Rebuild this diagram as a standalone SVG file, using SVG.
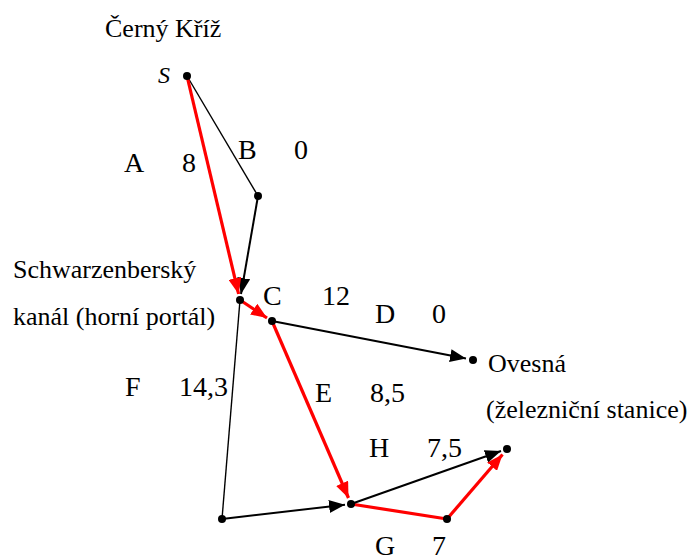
<svg xmlns="http://www.w3.org/2000/svg" width="696" height="558" viewBox="0 0 696 558">
<style>
.thin{stroke:#000;stroke-width:1.4;fill:none}
.blk{stroke:#000;stroke-width:2;fill:none}
.red{stroke:#f00;stroke-width:3.2;fill:none}
circle{fill:#000}
</style>
<defs>
<marker id="ab" markerUnits="userSpaceOnUse" markerWidth="17" markerHeight="13" refX="16" refY="6.5" orient="auto" viewBox="0 0 17 13"><path d="M0,0 L16,6.5 L0,13 z" fill="#000"/></marker>
<marker id="ar" markerUnits="userSpaceOnUse" markerWidth="17" markerHeight="13" refX="16" refY="6.5" orient="auto" viewBox="0 0 17 13"><path d="M0,0 L16,6.5 L0,13 z" fill="#f00"/></marker>
</defs>
<g id="connectors">
<line class="thin" x1="187" y1="76" x2="258" y2="196"/>
<line class="thin" x1="240" y1="300" x2="222" y2="519"/>
<line class="blk" x1="258" y1="196" x2="241" y2="294" marker-end="url(#ab)"/>
<line class="red" x1="187" y1="76" x2="238.6" y2="294" marker-end="url(#ar)"/>
<line class="red" x1="240" y1="300" x2="267" y2="318" marker-end="url(#ar)"/>
<line class="blk" x1="272" y1="321" x2="466" y2="358.6" marker-end="url(#ab)"/>
<line class="red" x1="272" y1="321" x2="348.5" y2="498" marker-end="url(#ar)"/>
<line class="blk" x1="222" y1="519" x2="345" y2="504.7" marker-end="url(#ab)"/>
<line class="red" x1="351" y1="504" x2="447" y2="519"/>
<line class="red" x1="447" y1="519" x2="502.5" y2="454.5" marker-end="url(#ar)"/>
<line class="blk" x1="351" y1="504" x2="501" y2="451" marker-end="url(#ab)"/>
</g>
<g font-family="Liberation Serif, Times New Roman, serif" font-size="26" fill="#000">
<g id="node-S"><circle cx="187" cy="76" r="4"/><text x="158" y="83" font-size="24" font-style="italic">S</text><text x="105" y="37">Černý Kříž</text></g>
<g id="node-B"><circle cx="258" cy="196" r="4"/></g>
<g id="node-C1"><circle cx="240" cy="300" r="4"/><text x="13" y="278">Schwarzenberský</text><text x="13" y="325">kanál (horní portál)</text></g>
<g id="node-C2"><circle cx="272" cy="321" r="4"/></g>
<g id="node-Ovesna"><circle cx="473" cy="360" r="4"/><text x="488" y="372">Ovesná</text><text x="486" y="418">(železniční stanice)</text></g>
<g id="node-BL"><circle cx="222" cy="519" r="4"/></g>
<g id="node-M"><circle cx="351" cy="504" r="4"/></g>
<g id="node-G"><circle cx="447" cy="519" r="4"/></g>
<g id="node-T"><circle cx="507" cy="449" r="4"/></g>
<g id="labels" font-size="28">
<text x="124" y="172">A</text><text x="182" y="172">8</text>
<text x="238" y="159">B</text><text x="294" y="159">0</text>
<text x="263" y="305">C</text><text x="322" y="305">12</text>
<text x="375" y="323">D</text><text x="432" y="323">0</text>
<text x="125" y="396">F</text><text x="179" y="396">14,3</text>
<text x="315" y="402">E</text><text x="370" y="402">8,5</text>
<text x="369" y="457">H</text><text x="427" y="457">7,5</text>
<text x="375" y="555">G</text><text x="432" y="555">7</text>
</g>
</g>
</svg>
